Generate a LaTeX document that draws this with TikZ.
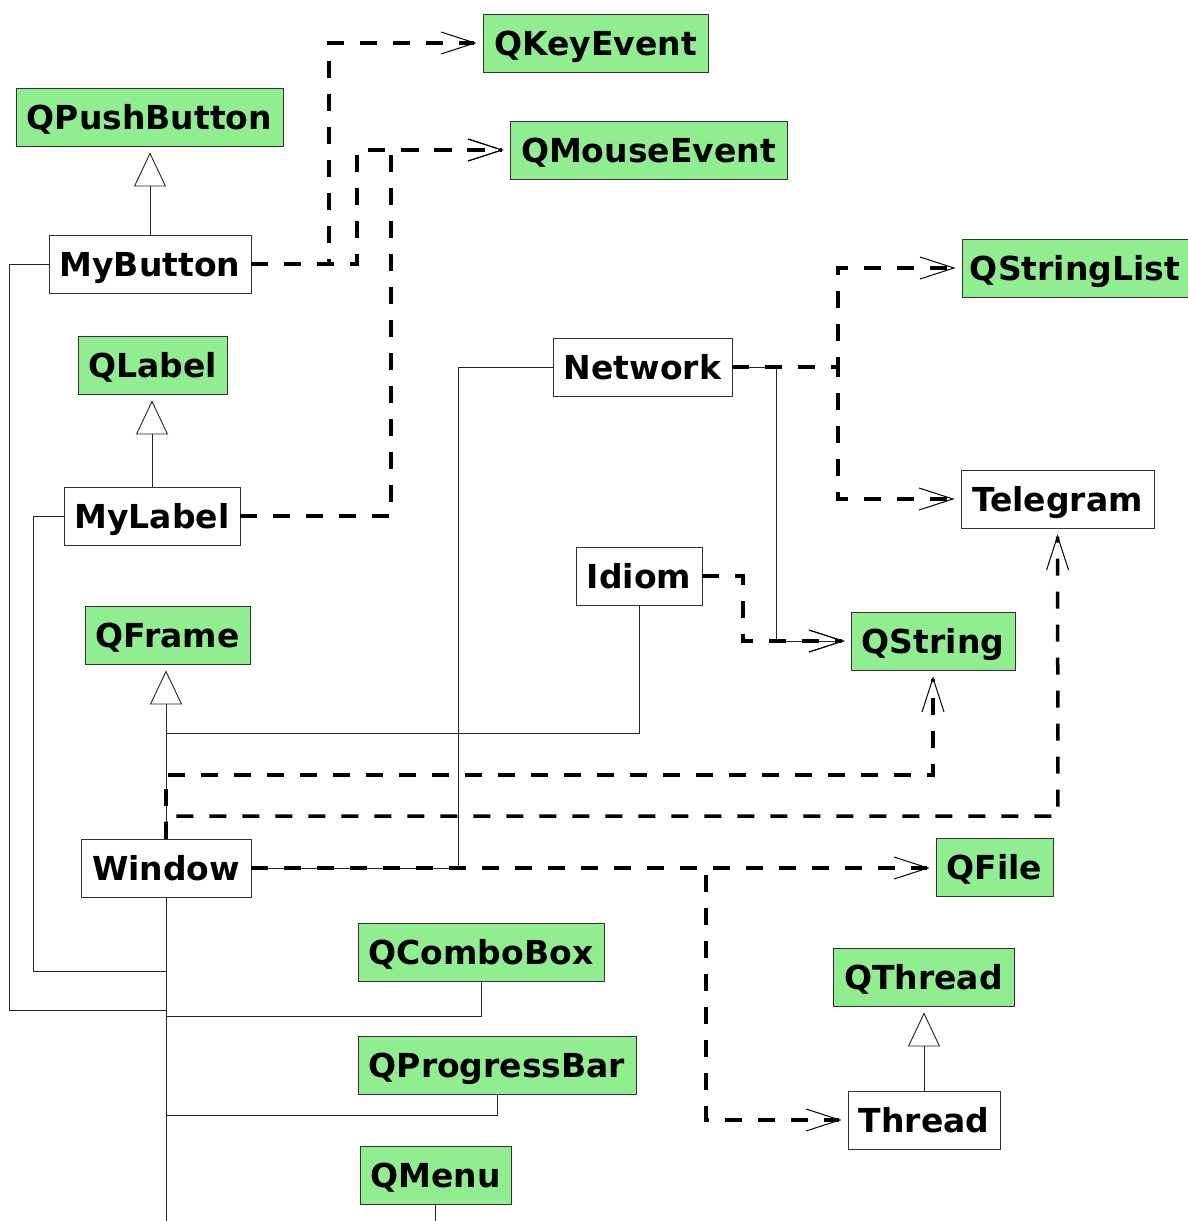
\documentclass[tikz,border=0pt]{standalone}
\usepackage{fontspec}
\setmainfont{DejaVu Sans}
\usetikzlibrary{arrows.meta}
\definecolor{libgreen}{HTML}{90EE90}
\begin{document}
\begin{tikzpicture}[x=1pt,y=-1pt,
  box/.style={draw=black!80, line width=0.8pt, inner sep=0pt, minimum height=58pt,
    font=\bfseries\fontsize{33}{39}\selectfont, text height=24pt, text depth=0pt},
  lib/.style={box, fill=libgreen},
  own/.style={box, fill=white},
  dep/.style={line width=3.5pt, dash pattern=on 17pt off 16pt,
    -{Straight Barb[length=34pt,width=22pt,line width=1pt]}, shorten >=6pt},
  assoc/.style={line width=0.9pt, draw=black!85,
    -{Straight Barb[length=34pt,width=22pt,line width=1pt]}, shorten >=6pt},
  link/.style={line width=0.9pt, draw=black!85},
  inh/.style={line width=0.9pt, draw=black!85,
    -{Triangle[length=34pt,width=32pt,fill=white,line width=0.9pt]}, shorten >=6pt}
]
\fill[white] (0,0) rectangle (1188,1221);
\useasboundingbox (0,0) rectangle (1188,1221);

% nodes
\node[lib, minimum width=225pt] (qkey)     at (595.5,43)  {QKeyEvent};
\node[lib, minimum width=267pt] (qpush)    at (149.5,117) {QPushButton};
\node[lib, minimum width=277pt] (qmouse)   at (648.5,150) {QMouseEvent};
\node[own, minimum width=202pt] (mybutton) at (150,264)   {MyButton};
\node[lib, minimum width=226pt] (qstrlist) at (1075,268)  {QStringList};
\node[lib, minimum width=149pt] (qlabel)   at (152.5,365) {QLabel};
\node[own, minimum width=179pt] (network)  at (642.5,367) {Network};
\node[own, minimum width=193pt] (telegram) at (1057.5,499){Telegram};
\node[own, minimum width=176pt] (mylabel)  at (152,516)   {MyLabel};
\node[own, minimum width=126pt] (idiom)    at (639,576)   {Idiom};
\node[lib, minimum width=165pt] (qframe)   at (167.5,635) {QFrame};
\node[lib, minimum width=164pt] (qstring)  at (933,641)   {QString};
\node[own, minimum width=170pt] (window)   at (166,868)   {Window};
\node[lib, minimum width=117pt] (qfile)    at (994.5,867) {QFile};
\node[lib, minimum width=246pt] (qcombo)   at (481,952)   {QComboBox};
\node[lib, minimum width=181pt] (qthread)  at (923.5,977) {QThread};
\node[lib, minimum width=278pt] (qprog)    at (497,1065)  {QProgressBar};
\node[own, minimum width=152pt] (thread)   at (924,1120)  {Thread};
\node[lib, minimum width=151pt] (qmenu)    at (435.5,1175){QMenu};

\coordinate (winend)  at (166,1221);
\coordinate (menuend) at (435.5,1221);
\coordinate (idiomj)  at (166,733);

% inheritance
\draw[inh] (mybutton.north) -- (mybutton.north |- qpush.south);
\draw[inh] (mylabel.north) -- (mylabel.north |- qlabel.south);
\draw[inh] (window.north) -- (window.north |- qframe.south);
\draw[inh] (thread.north) -- (thread.north |- qthread.south);

% plain links
\draw[link] (window.east) -| (458,367) -- (network.west);
\draw[link] (idiom.south) |- (idiomj);
\draw[link] (window.south) -- (winend);
\draw[link] (mylabel.west) -| (33,971) -- (166,971);
\draw[link] (mybutton.west) -| (9,1010) -- (166,1010);
\draw[link] (qcombo.south) |- (166,1016);
\draw[link] (qprog.south) |- (166,1115);
\draw[link] (qmenu.south) -- (menuend);
\draw[assoc] (network.east) -| (776,641) -- (qstring.west);

% dependencies
\draw[dep] (mybutton.east) -| (329,43) -- (qkey.west);
\draw[dep] (mybutton.east) -| (357,150) -- (qmouse.west);
\draw[dep] (mylabel.east) -| (391,150) -- (qmouse.west);
\draw[dep] (network.east) -| (838,268) -- (qstrlist.west);
\draw[dep] (network.east) -| (838,499) -- (telegram.west);
\draw[dep] (idiom.east) -| (743,641) -- (qstring.west);
\draw[dep] (window.north) |- (933,775) -- (qstring.south);
\draw[dep] (window.north) |- (1058,816) -- (telegram.south);
\draw[dep] (window.east) -- (window.east -| qfile.west);
\draw[dep] (window.east) -| (706,1120) -- (thread.west);
\end{tikzpicture}
\end{document}
